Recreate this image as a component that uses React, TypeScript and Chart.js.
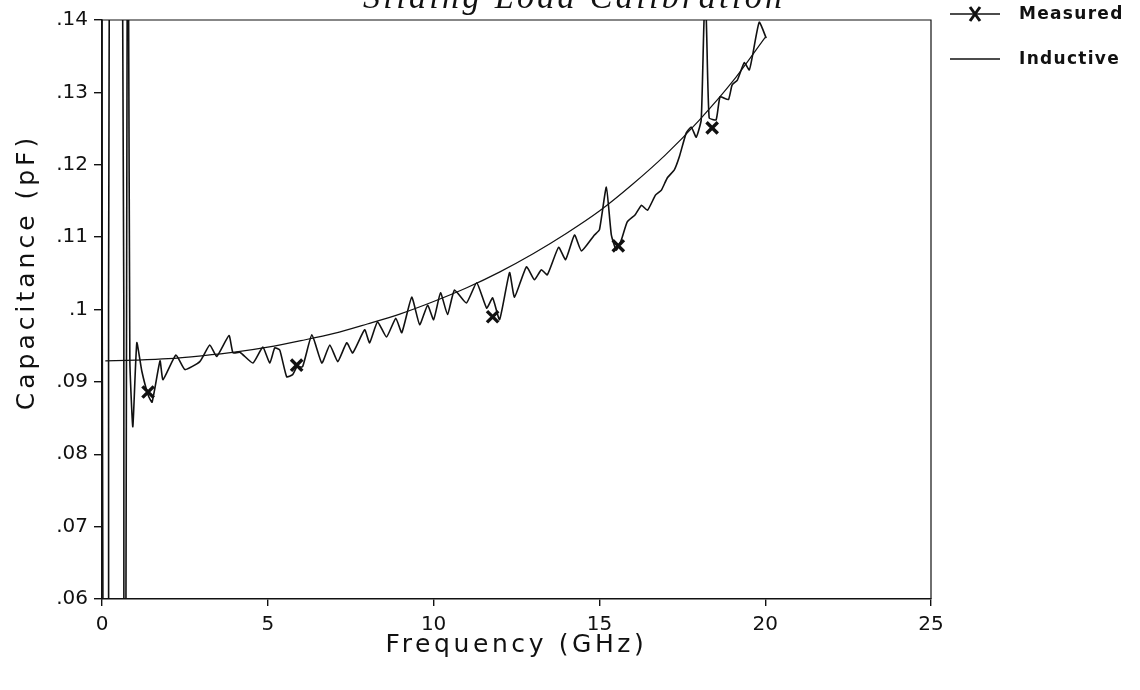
import { useEffect, useRef } from "react";
import { Chart, registerables } from "chart.js";

Chart.register(...registerables);

// Measured sliding-load capacitance trace (GHz, pF)
const measuredFreq = [
  0.0, 0.03, 0.2, 0.22, 0.62, 0.66, 0.72, 0.76, 0.8, 0.84,
  0.93, 1.05, 1.2, 1.39, 1.51, 1.75, 1.84, 2.23, 2.5, 2.95,
  3.25, 3.46, 3.83, 3.95, 4.16, 4.55, 4.85, 5.06, 5.21, 5.36,
  5.57, 5.75, 5.87, 6.05, 6.33, 6.63, 6.87, 7.11, 7.38, 7.56,
  7.92, 8.07, 8.31, 8.58, 8.86, 9.04, 9.34, 9.58, 9.82, 10.0,
  10.21, 10.42, 10.63, 10.99, 11.3, 11.6, 11.78, 11.99, 12.29, 12.44,
  12.8, 13.04, 13.25, 13.43, 13.77, 13.98, 14.25, 14.46, 14.85, 15.0,
  15.21, 15.36, 15.51, 15.66, 15.84, 16.08, 16.27, 16.45, 16.69, 16.87,
  17.05, 17.26, 17.41, 17.62, 17.77, 17.92, 18.07, 18.16, 18.22, 18.31,
  18.52, 18.64, 18.89, 19.0, 19.16, 19.37, 19.52, 19.61, 19.82, 20.03,
];
const measuredCap = [
  0.145, 0.055, 0.055, 0.145, 0.145, 0.055, 0.055, 0.145, 0.145, 0.0929,
  0.0838, 0.0954, 0.0915, 0.0882, 0.0872, 0.0929, 0.0903, 0.0937, 0.0917, 0.0928,
  0.0951, 0.0935, 0.0964, 0.094, 0.0941, 0.0926, 0.0948, 0.0926, 0.0947, 0.0944,
  0.0907, 0.091, 0.092, 0.0921, 0.0965, 0.0926, 0.0951, 0.0928, 0.0954, 0.094,
  0.0972, 0.0954, 0.0983, 0.0962, 0.0988, 0.0968, 0.1017, 0.0979, 0.1006, 0.0986,
  0.1023, 0.0993, 0.1027, 0.1009, 0.1037, 0.1002, 0.1016, 0.0986, 0.1051, 0.1017,
  0.1059, 0.1041, 0.1055, 0.1048, 0.1086, 0.1069, 0.1103, 0.1081, 0.1103, 0.111,
  0.1169, 0.1103, 0.1082, 0.1096, 0.1121, 0.1131, 0.1144, 0.1137, 0.1158, 0.1165,
  0.1182, 0.1193, 0.1211, 0.1244, 0.1252, 0.1238, 0.1262, 0.1405, 0.1405, 0.1265,
  0.1262, 0.1294, 0.129, 0.131, 0.1317, 0.1341, 0.1331, 0.1349, 0.1397, 0.1375,
];

// Marked measurement points
const markerFreq = [1.39, 5.87, 11.78, 15.57, 18.4];
const markerCap = [0.0886, 0.0923, 0.099, 0.1088, 0.1251];

// Inductive model curve
const inductiveFreq = [0.1, 1, 2, 3, 4, 5, 6, 7, 8, 9, 10, 11, 12, 13, 14, 15, 16, 17, 18, 19, 20];
const inductiveCap = [
  0.0929, 0.093, 0.0932, 0.0936, 0.0941, 0.0948, 0.0957, 0.0967, 0.098, 0.0994,
  0.1011, 0.103, 0.1052, 0.1077, 0.1105, 0.1136, 0.1173, 0.1214, 0.1261, 0.1314, 0.1376,
];

const yTickLabels = [".06", ".07", ".08", ".09", ".1", ".11", ".12", ".13", ".14"];
const seriesNames = ["Measured", "Inductive"];
const chartTitle = "Sliding Load Calibration";
const xAxisTitle = "Frequency (GHz)";
const yAxisTitle = "Capacitance (pF)";

const INK = "#111";
const TICK_FONT = "DejaVu Sans";

function spacedText(
  ctx: CanvasRenderingContext2D,
  text: string,
  x: number,
  y: number,
  spacing: number
) {
  (ctx as any).letterSpacing = `${spacing}px`;
  ctx.fillText(text, x, y);
  (ctx as any).letterSpacing = "0px";
}

const framePlugin = {
  id: "frameBox",
  afterDatasetsDraw(chart: any) {
    const { ctx, chartArea: a } = chart;
    ctx.save();
    ctx.strokeStyle = INK;
    ctx.lineWidth = 1.2;
    ctx.beginPath();
    ctx.moveTo(a.left, a.top);
    ctx.lineTo(a.right, a.top);
    ctx.lineTo(a.right, a.bottom);
    ctx.stroke();
    ctx.restore();
  },
};

const captionPlugin = {
  id: "captions",
  afterDraw(chart: any) {
    const { ctx, chartArea: a } = chart;
    ctx.save();
    ctx.fillStyle = INK;

    // title, partly above the page edge
    ctx.font = 'italic 34px "Liberation Serif"';
    ctx.textAlign = "left";
    ctx.textBaseline = "alphabetic";
    const w = ctx.measureText(chartTitle).width;
    const gap = (419 - w) / (chartTitle.length - 1);
    spacedText(ctx, chartTitle, 363, 8, gap);

    // axis titles
    ctx.font = `25px "${TICK_FONT}"`;
    ctx.textAlign = "center";
    ctx.textBaseline = "middle";
    spacedText(ctx, xAxisTitle, (a.left + a.right) / 2, 645, 3.6);

    ctx.save();
    ctx.translate(27, 272);
    ctx.rotate(-Math.PI / 2);
    spacedText(ctx, yAxisTitle, 0, 0, 4);
    ctx.restore();

    // legend
    const lx0 = 950;
    const lx1 = 1000;
    const rows = [14, 59];
    ctx.strokeStyle = INK;
    ctx.lineWidth = 1.4;
    rows.forEach((ry) => {
      ctx.beginPath();
      ctx.moveTo(lx0, ry);
      ctx.lineTo(lx1, ry);
      ctx.stroke();
    });
    ctx.lineWidth = 3;
    const mx = 975;
    const my = rows[0];
    ctx.beginPath();
    ctx.moveTo(mx - 5, my - 7);
    ctx.lineTo(mx + 5, my + 7);
    ctx.moveTo(mx + 5, my - 7);
    ctx.lineTo(mx - 5, my + 7);
    ctx.stroke();

    ctx.font = `bold 17px "${TICK_FONT}"`;
    ctx.textAlign = "left";
    ctx.textBaseline = "middle";
    seriesNames.forEach((name, i) => spacedText(ctx, name, 1019, rows[i] + 1, 1.3));
    ctx.restore();
  },
};

export default function App() {
  const canvasRef = useRef<HTMLCanvasElement | null>(null);

  useEffect(() => {
    const canvas = canvasRef.current;
    if (!canvas) return;

    const measured = measuredFreq.map((f, i) => ({ x: f, y: measuredCap[i] }));
    const markers = markerFreq.map((f, i) => ({ x: f, y: markerCap[i] }));
    const inductive = inductiveFreq.map((f, i) => ({ x: f, y: inductiveCap[i] }));

    const chart = new Chart(canvas, {
      type: "line",
      data: {
        datasets: [
          {
            label: seriesNames[1],
            data: inductive,
            borderColor: INK,
            borderWidth: 1.2,
            pointRadius: 0,
            cubicInterpolationMode: "monotone",
            fill: false,
          },
          {
            label: seriesNames[0],
            data: measured,
            borderColor: INK,
            borderWidth: 1.6,
            pointRadius: 0,
            tension: 0.15,
            fill: false,
          },
          {
            label: seriesNames[0] + " points",
            data: markers,
            showLine: false,
            borderColor: INK,
            backgroundColor: INK,
            pointStyle: "crossRot",
            pointRadius: 8,
            pointBorderWidth: 3.4,
          },
        ],
      },
      options: {
        animation: false,
        responsive: true,
        maintainAspectRatio: false,
        events: [],
        layout: { padding: { left: 0, top: 20, right: 209, bottom: 0 } },
        plugins: {
          legend: { display: false },
          tooltip: { enabled: false },
          title: { display: false },
        },
        scales: {
          x: {
            type: "linear",
            min: 0,
            max: 25,
            afterFit: (s: any) => {
              s.height = 91;
            },
            ticks: {
              stepSize: 5,
              padding: 7,
              color: INK,
              font: { family: TICK_FONT, size: 20 },
            },
            grid: {
              display: true,
              drawOnChartArea: false,
              drawTicks: true,
              tickLength: 7,
              color: INK,
              lineWidth: 1.4,
            },
            border: { display: true, color: INK, width: 1.5 },
          },
          y: {
            type: "linear",
            min: 0.06,
            max: 0.14,
            afterFit: (s: any) => {
              s.width = 102;
            },
            ticks: {
              stepSize: 0.01,
              padding: 6,
              color: INK,
              font: { family: TICK_FONT, size: 20 },
              callback: (v: any) => yTickLabels[Math.round((Number(v) - 0.06) * 100)] ?? "",
            },
            grid: {
              display: true,
              drawOnChartArea: false,
              drawTicks: true,
              tickLength: 8,
              color: INK,
              lineWidth: 1.4,
            },
            border: { display: true, color: INK, width: 1.5 },
          },
        },
      },
      plugins: [framePlugin, captionPlugin],
    });

    return () => chart.destroy();
  }, []);

  return (
    <div
      style={{
        position: "fixed",
        left: 0,
        top: 0,
        width: 1140,
        height: 690,
        background: "#fff",
      }}
    >
      <canvas ref={canvasRef} />
    </div>
  );
}
